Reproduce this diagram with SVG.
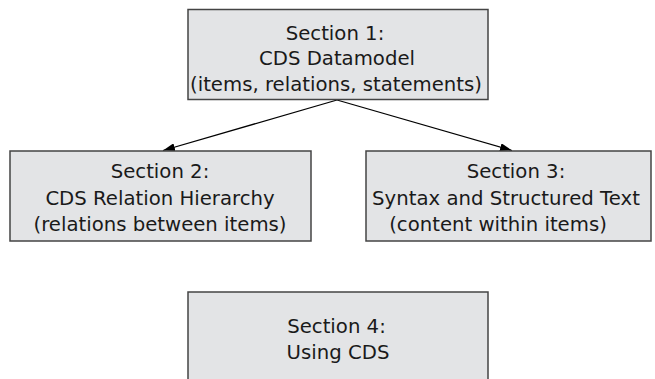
<svg xmlns="http://www.w3.org/2000/svg" width="655" height="379" viewBox="0 0 655 379">
<defs>
<marker id="ah" viewBox="0 0 12 8" refX="12" refY="4" markerWidth="12" markerHeight="8" markerUnits="userSpaceOnUse" orient="auto">
<path d="M0,0 L12,4 L0,8 Z" fill="#000"/>
</marker>
<style>
.box{fill:#e3e4e6;stroke:#444;stroke-width:1.5}
.t{font-family:"DejaVu Sans",Verdana,sans-serif;font-size:19.7px;fill:#1a1a1a;text-anchor:middle}
.c{stroke:#000;stroke-width:1.3;fill:none}
</style>
</defs>
<g id="connectors">
<line class="c" x1="337" y1="100" x2="163" y2="150.5" marker-end="url(#ah)"/>
<line class="c" x1="337" y1="100" x2="512" y2="150.5" marker-end="url(#ah)"/>
</g>
<g id="node1">
<rect class="box" x="188" y="9.5" width="300" height="90"/>
<text class="t" x="335" y="39.5">Section 1:</text>
<text class="t" x="337" y="65">CDS Datamodel</text>
<text class="t" x="336" y="90.5">(items, relations, statements)</text>
</g>
<g id="node2">
<rect class="box" x="10" y="151" width="301" height="90"/>
<text class="t" x="160" y="178.3">Section 2:</text>
<text class="t" x="160" y="204.5">CDS Relation Hierarchy</text>
<text class="t" x="160" y="230.5">(relations between items)</text>
</g>
<g id="node3">
<rect class="box" x="366" y="151" width="285" height="90"/>
<text class="t" x="516" y="178.3">Section 3:</text>
<text class="t" x="506" y="204.5">Syntax and Structured Text</text>
<text class="t" x="498" y="230.5">(content within items)</text>
</g>
<g id="node4">
<rect class="box" x="188" y="292" width="300" height="100"/>
<text class="t" x="336.5" y="333">Section 4:</text>
<text class="t" x="338" y="359">Using CDS</text>
</g>
</svg>
